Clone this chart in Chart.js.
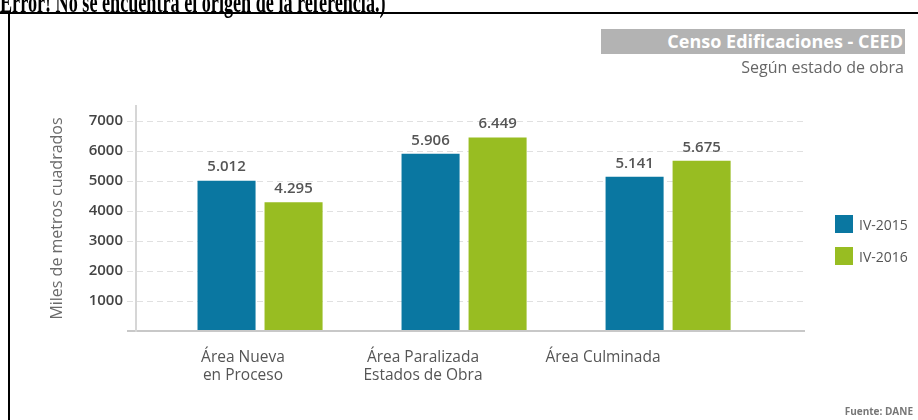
<!DOCTYPE html>
<html lang="es">
<head>
<meta charset="utf-8">
<title>Censo Edificaciones - CEED</title>
<script src="https://cdn.jsdelivr.net/npm/chart.js@4.4.1/dist/chart.umd.min.js"></script>
<style>
  html, body { margin: 0; padding: 0; background: #fff; }
  #page { position: relative; width: 918px; height: 420px; overflow: hidden; font-family: "Open Sans", sans-serif; }
  #chart { position: absolute; left: 0; top: 0; }
  #errline { position: absolute; left: 0; top: -13px; font-family: "Liberation Serif", serif; font-weight: bold;
    font-size: 30px; line-height: 30px; white-space: nowrap; transform: scaleX(0.605); transform-origin: 0 0; color: #000; }
  #frame-top { position: absolute; left: 0; top: 12px; width: 918px; height: 2px; background: #000; }
  #frame-left { position: absolute; left: 8px; top: 12px; width: 2px; height: 408px; background: #000; }
  #title { position: absolute; left: 601px; top: 29px; width: 304px; height: 25px; background: #b3b3b3; color: #fff;
    font-weight: bold; font-size: 18px; line-height: 25px; text-align: right; box-sizing: border-box; padding-right: 2px; }
  #subtitle { position: absolute; right: 14px; top: 57px; color: #666; font-size: 16px; line-height: 20px; }
  #legend { position: absolute; left: 835px; top: 215px; }
  .legend-item { display: flex; align-items: center; height: 18px; margin-bottom: 14px; color: #555; font-size: 14px; }
  .legend-box { width: 18px; height: 18px; margin-right: 6px; }
  #source { position: absolute; right: 5px; top: 404px; color: #777; font-size: 10px; font-weight: bold; }
</style>
</head>
<body>
<div id="page">
  <canvas id="chart" width="918" height="420"></canvas>
  <div id="errline">Error! No se encuentra el origen de la referencia.)</div>
  <div id="frame-top"></div>
  <div id="frame-left"></div>
  <div id="title">Censo Edificaciones - CEED</div>
  <div id="subtitle">Según estado de obra</div>
  <div id="legend"></div>
  <div id="source">Fuente: DANE</div>
</div>
<script>
const categories = [["Área Nueva", "en Proceso"], ["Área Paralizada", "Estados de Obra"], "Área Culminada"];
const seriesNames = ["IV-2015", "IV-2016"];
const values2015 = [5012, 5906, 5141];
const values2016 = [4295, 6449, 5675];
const yTicks = [0, 1000, 2000, 3000, 4000, 5000, 6000, 7000];
const seriesColors = ["#0a77a1", "#98bd22"];

function formatNumber(v) {
  return String(v).replace(/\B(?=(\d{3})+(?!\d))/g, ".");
}

function toPoints(values) {
  return values.map((v, i) => ({ x: i, y: v }));
}

const categoryTicks = scale => { scale.ticks = categories.map((c, i) => ({ value: i })); };

const valueLabels = {
  id: "valueLabels",
  afterDatasetsDraw(chart) {
    const ctx = chart.ctx;
    ctx.save();
    ctx.font = "600 15px 'Open Sans'";
    ctx.fillStyle = "#555";
    ctx.textAlign = "center";
    ctx.textBaseline = "bottom";
    chart.data.datasets.forEach((ds, di) => {
      chart.getDatasetMeta(di).data.forEach((bar, i) => {
        ctx.fillText(formatNumber(ds.data[i].y), bar.x, bar.y - 6);
      });
    });
    ctx.restore();
  }
};

const chart = new Chart(document.getElementById("chart"), {
  type: "bar",
  data: {
    datasets: [
      { label: seriesNames[0], data: toPoints(values2015), backgroundColor: seriesColors[0] },
      { label: seriesNames[1], data: toPoints(values2016), backgroundColor: seriesColors[1] }
    ]
  },
  options: {
    responsive: false,
    animation: false,
    categoryPercentage: 0.657,
    barPercentage: 0.866,
    layout: { padding: { left: 45, right: 113, top: 106, bottom: 0 } },
    plugins: { legend: { display: false }, tooltip: { enabled: false } },
    scales: {
      x: {
        type: "linear",
        offset: false,
        min: -0.608,
        max: 2.671,
        afterBuildTicks: categoryTicks,
        afterFit: scale => { scale.height = 0; },
        grid: { display: false },
        border: { display: false },
        ticks: { display: false }
      },
      // category names sit a little left of their bar groups in the original
      xLabels: {
        type: "linear",
        position: "bottom",
        offset: false,
        min: -0.594,
        max: 3.122,
        afterBuildTicks: categoryTicks,
        afterFit: scale => { scale.height = 89; },
        grid: { display: false },
        border: { display: false },
        ticks: {
          autoSkip: false,
          maxRotation: 0,
          padding: 9,
          color: "#555",
          font: { family: "Open Sans", size: 15.5, lineHeight: 1.2 },
          callback: value => categories[Math.round(value)]
        }
      },
      y: {
        min: 0,
        max: 7500,
        afterBuildTicks: scale => { scale.ticks = yTicks.map(v => ({ value: v })); },
        afterFit: scale => { scale.width = 91; },
        title: {
          display: true,
          text: "Miles de metros cuadrados",
          color: "#6a6a6a",
          font: { family: "Open Sans", size: 16 },
          padding: { top: 3, bottom: 4 }
        },
        grid: {
          color: ctx => ctx.tick && ctx.tick.value === 0 ? "#c8c8c8" : "#e0e0e0",
          tickColor: ctx => ctx.tick && ctx.tick.value === 0 ? "#c8c8c8" : "#e0e0e0",
          lineWidth: ctx => ctx.tick && ctx.tick.value === 0 ? 2 : 1,
          tickLength: 9,
          tickBorderDash: ctx => ctx.tick && ctx.tick.value === 0 ? [] : [6, 4]
        },
        border: {
          display: true,
          color: "#d6d6d6",
          width: 2,
          dash: ctx => ctx.tick && ctx.tick.value === 0 ? [] : [6, 4]
        },
        ticks: {
          padding: 4,
          color: "#444",
          font: { family: "Open Sans", size: 15, weight: "600" },
          callback: value => value === 0 ? "" : String(value)
        }
      }
    }
  },
  plugins: [valueLabels]
});

const legendEl = document.getElementById("legend");
chart.data.datasets.forEach(ds => {
  const item = document.createElement("div");
  item.className = "legend-item";
  item.innerHTML = `<span class="legend-box" style="background:${ds.backgroundColor}"></span><span>${ds.label}</span>`;
  legendEl.appendChild(item);
});
</script>
</body>
</html>
